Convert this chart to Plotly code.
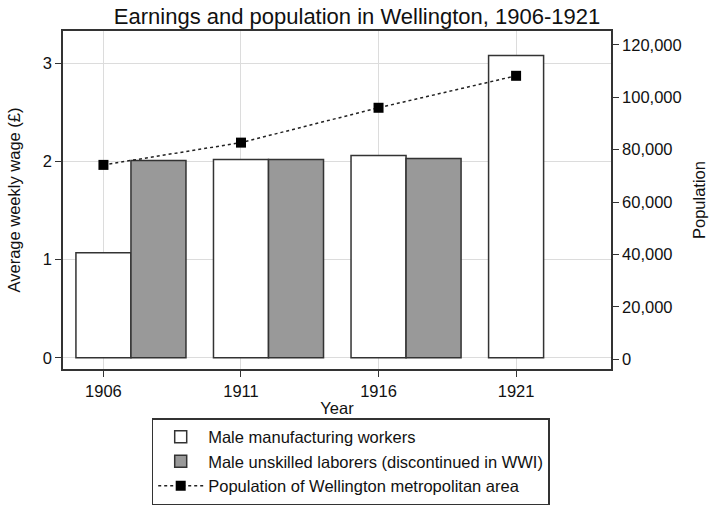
import plotly.graph_objects as go

years = [1906, 1911, 1916, 1921]
manuf_wage = [1.07, 2.02, 2.06, 3.08]
unskilled_years = [1906, 1911, 1916]
unskilled_wage = [2.01, 2.02, 2.03]
population = [74200, 82700, 96000, 108200]

bar_offset = 2  # years shift for the second bar
bar_width = 2

FONT = "Liberation Sans, Arial, Helvetica, sans-serif"
AX = "#333333"
GRID = "#dcdcdc"
FS = 16.5

fig = go.Figure()
fig.add_trace(go.Bar(
    x=years, y=manuf_wage, width=bar_width, name="Male manufacturing workers",
    marker=dict(color="white", line=dict(color=AX, width=1.5)),
    legendgroup="a",
))
fig.add_trace(go.Bar(
    x=[y + bar_offset for y in unskilled_years], y=unskilled_wage, width=bar_width,
    name="Male unskilled laborers (discontinued in WWI)",
    marker=dict(color="#999999", line=dict(color=AX, width=1.5)),
    legendgroup="b",
))
fig.add_trace(go.Scatter(
    x=years, y=population, yaxis="y2", mode="lines+markers",
    name="Population of Wellington metropolitan area",
    line=dict(color="#222222", width=1.5, dash="dot"),
    marker=dict(symbol="square", size=10, color="black"),
    legendgroup="c",
))

fig.update_layout(
    width=714, height=514,
    margin=dict(l=63, r=103, t=31, b=145, autoexpand=False),
    paper_bgcolor="white", plot_bgcolor="white",
    font=dict(family=FONT, size=FS, color="#111111"),
    barmode="overlay",
    title=dict(text="Earnings and population in Wellington, 1906-1921",
               x=0.5, xanchor="center", xref="container",
               y=1 - 16 / 514, yanchor="middle", yref="container",
               font=dict(size=22, color="#111111")),
    xaxis=dict(
        range=[1904.53, 1924.45], tickvals=years, ticktext=[str(y) for y in years],
        showgrid=True, gridcolor=GRID, gridwidth=1,
        showline=True, linecolor=AX, linewidth=1.5, mirror=True,
        ticks="outside", ticklen=6, tickcolor=AX, zeroline=False, automargin=False,
        title=dict(text="Year", standoff=4, font=dict(size=FS)),
    ),
    yaxis=dict(
        range=[-0.115, 3.33], tickvals=[0, 1, 2, 3],
        showgrid=True, gridcolor=GRID, gridwidth=1,
        showline=True, linecolor=AX, linewidth=1.5,
        ticks="outside", ticklen=6, tickcolor=AX, zeroline=False, automargin=False,
        title=dict(text="Average weekly wage (£)", standoff=18, font=dict(size=FS)),
    ),
    yaxis2=dict(
        overlaying="y", side="right",
        range=[-3700, 125300], tickvals=[0, 20000, 40000, 60000, 80000, 100000, 120000],
        ticktext=["0", "20,000", "40,000", "60,000", "80,000", "100,000", "120,000"],
        showgrid=False, showline=True, linecolor=AX, linewidth=1.5,
        ticks="outside", ticklen=6, tickcolor=AX, zeroline=False, automargin=False,
        title=dict(text="Population", standoff=13, font=dict(size=FS)),
    ),
    legend=dict(
        x=0.525, xanchor="center", y=-0.145, yanchor="top",
        bordercolor=AX, borderwidth=1.5, bgcolor="white",
        itemwidth=45, tracegroupgap=11, traceorder="normal",
        font=dict(size=FS),
    ),
    showlegend=True,
)

fig.write_html("out.html", config={"displayModeBar": False},
               post_script="document.body.style.margin='0';")
